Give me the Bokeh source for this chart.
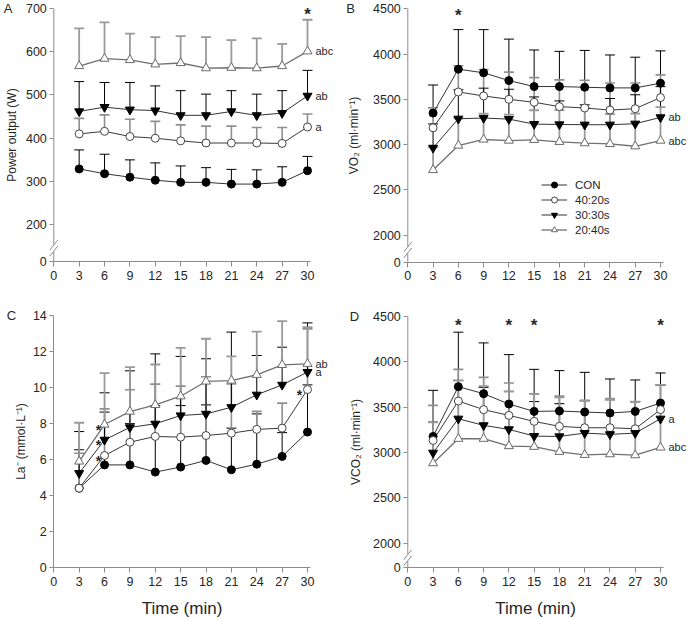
from bokeh.plotting import figure
from bokeh.models import (Range1d, FixedTicker, Whisker, TeeHead, Label,
                          Legend, LegendItem, ColumnDataSource)
from bokeh.layouts import column, row
from bokeh.embed import file_html
from bokeh.resources import INLINE

# ---------------- data ----------------
time = [3, 6, 9, 12, 15, 18, 21, 24, 27, 30]
x_ticks = [0, 3, 6, 9, 12, 15, 18, 21, 24, 27, 30]
groups = ["CON", "40:20s", "30:30s", "20:40s"]

# A: power output (W)
pw_con = [329, 318, 310, 303, 298, 298, 294, 294, 298, 325]
pw_con_sd = [44, 45, 40, 40, 38, 34, 34, 33, 36, 33]
pw_4020 = [410, 416, 404, 400, 394, 389, 389, 389, 388, 426]
pw_4020_sd = [36, 38, 40, 39, 37, 39, 39, 36, 37, 30]
pw_3030 = [462, 472, 466, 464, 453, 453, 462, 453, 458, 498]
pw_3030_sd = [69, 57, 63, 57, 57, 49, 48, 49, 52, 59]
pw_2040 = [567, 584, 581, 571, 574, 562, 563, 562, 567, 601]
pw_2040_sd = [87, 84, 61, 63, 62, 72, 64, 69, 51, 73]
pw_ticks = [0, 200, 300, 400, 500, 600, 700]
pw_labels = {"20:40s": "abc", "30:30s": "ab", "40:20s": "a"}

# B: VO2 (ml/min)
vo2_con = [3348, 3833, 3793, 3707, 3641, 3641, 3633, 3626, 3626, 3678]
vo2_con_sd = [310, 437, 477, 458, 404, 389, 407, 364, 339, 357]
vo2_4020 = [3185, 3581, 3537, 3500, 3467, 3419, 3404, 3381, 3396, 3519]
vo2_4020_sd = [220, 289, 293, 300, 273, 296, 306, 299, 284, 251]
vo2_3030 = [2963, 3285, 3293, 3281, 3226, 3222, 3219, 3219, 3230, 3300]
vo2_3030_sd = [265, 320, 330, 330, 300, 260, 220, 290, 320, 340]
vo2_2040 = [2719, 2989, 3056, 3044, 3052, 3030, 3015, 3007, 2981, 3044]
vo2_2040_sd = [250, 300, 286, 287, 327, 350, 390, 330, 360, 370]
vo2_ticks = [0, 2000, 2500, 3000, 3500, 4000, 4500]
vo2_labels = {"30:30s": "ab", "20:40s": "abc"}

# C: lactate (mmol/L)
la_con = [4.42, 5.71, 5.71, 5.31, 5.59, 5.96, 5.44, 5.75, 6.18, 7.53]
la_con_sd = [2.13, 2.93, 2.29, 3.69, 3.41, 3.08, 2.31, 2.79, 1.32, 2.62]
la_4020 = [4.42, 6.23, 6.97, 7.29, 7.25, 7.34, 7.47, 7.68, 7.75, 9.89]
la_4020_sd = [1.94, 2.59, 2.91, 2.90, 2.83, 3.26, 2.73, 1.00, 1.39, 3.37]
la_3030 = [5.25, 7.10, 7.79, 7.99, 8.45, 8.54, 8.91, 9.60, 10.15, 10.86]
la_3030_sd = [2.31, 2.61, 3.14, 3.88, 3.28, 3.06, 4.17, 2.18, 2.09, 2.73]
la_2040 = [5.90, 7.95, 8.67, 9.04, 9.52, 10.34, 10.39, 10.71, 11.26, 11.32]
la_2040_sd = [2.15, 2.85, 2.46, 2.24, 2.68, 2.37, 1.34, 2.40, 2.43, 2.03]
la_ticks = [0, 2, 4, 6, 8, 10, 12, 14]
la_labels = {"20:40s": "ab", "30:30s": "a"}

# D: VCO2 (ml/min)
vco2_con = [3176, 3724, 3647, 3533, 3452, 3456, 3445, 3434, 3452, 3544]
vco2_con_sd = [508, 600, 559, 544, 463, 445, 437, 375, 346, 331]
vco2_4020 = [3132, 3566, 3471, 3408, 3342, 3287, 3272, 3272, 3261, 3471]
vco2_4020_sd = [386, 349, 356, 357, 305, 333, 298, 320, 294, 272]
vco2_3030 = [2996, 3371, 3298, 3254, 3180, 3176, 3213, 3199, 3213, 3371]
vco2_3030_sd = [338, 423, 419, 419, 380, 361, 357, 381, 347, 372]
vco2_2040 = [2882, 3151, 3151, 3070, 3063, 3007, 2974, 2981, 2970, 3055]
vco2_2040_sd = [450, 640, 580, 600, 580, 600, 600, 600, 590, 690]
vco2_ticks = [0, 2000, 2500, 3000, 3500, 4000, 4500]
vco2_labels = {"30:30s": "a", "20:40s": "abc"}

# significance stars (time points)
pw_star_times = [30]
vo2_star_times = [6]
vco2_star_times = [6, 12, 15, 30]

# ---------------- style ----------------
FONT = "Liberation Sans"
AXIS_COL = "#8c8c8c"
TEXT_COL = "#262626"
XAXIS_END = 30.3

STYLE = {
    "CON": dict(marker="circle", size=8, fill="black", line="black",
                bar="black", bw=1.0, lc="#333333", lw=1.0),
    "40:20s": dict(marker="circle", size=8, fill="white", line="#444444",
                   bar="#8f8f8f", bw=1.6, lc="#3a3a3a", lw=1.0),
    "30:30s": dict(marker="inverted_triangle", size=9, fill="black", line="black",
                   bar="black", bw=1.0, lc="#333333", lw=1.0),
    "20:40s": dict(marker="triangle", size=9, fill="white", line="#6a6a6a",
                   bar="#9a9a9a", bw=1.8, lc="#707070", lw=1.3),
}


def panel(series, sds, ticks, zero_pos, y_top, ylabel, xlabel, letter, letter_px,
          fw, fh, L, R30, T, Z, ylab_standoff, end_labels, brk=None):
    # geometry in px, local to figure: L = x of axis, R30 = x of t=30,
    # T = y of top tick, Z = y of x-axis (from figure top)
    ux = (R30 - L) / 30.0
    uy = (Z - T) / float(y_top - zero_pos)
    x0, x1 = -L / ux, (fw - L) / ux
    y1 = y_top + T / uy
    y0 = zero_pos - (fh - Z) / uy

    p = figure(width=fw, height=fh, x_range=Range1d(x0, x1), y_range=Range1d(y0, y1),
               output_backend="svg", toolbar_location=None, title=None,
               min_border=0, min_border_left=0, min_border_right=0,
               min_border_top=0, min_border_bottom=0)
    p.outline_line_color = None
    p.grid.visible = False
    p.background_fill_color = "white"
    p.border_fill_color = "white"

    tick_pos = [zero_pos] + ticks[1:]
    p.xaxis.ticker = FixedTicker(ticks=x_ticks)
    p.yaxis.ticker = FixedTicker(ticks=tick_pos)
    p.yaxis.major_label_overrides = {zero_pos: "0"}
    p.xaxis.fixed_location = zero_pos
    p.yaxis.fixed_location = 0
    p.xaxis.bounds = (0, XAXIS_END)
    p.yaxis.bounds = (zero_pos, y_top)

    for ax in (p.xaxis[0], p.yaxis[0]):
        ax.axis_line_color = AXIS_COL
        ax.major_tick_line_color = AXIS_COL
        ax.minor_tick_line_color = None
        ax.major_tick_in = 0
        ax.major_label_text_font = FONT
        ax.major_label_text_font_size = "12.5px"
        ax.major_label_text_color = TEXT_COL
        ax.axis_label_text_font = FONT
        ax.axis_label_text_font_style = "normal"
        ax.axis_label_text_color = TEXT_COL
    p.yaxis.major_tick_out = 4
    p.xaxis.major_tick_out = 5
    p.yaxis.major_label_standoff = 3
    p.xaxis.major_label_standoff = 4
    p.yaxis.axis_label = ylabel
    p.yaxis.axis_label_text_font_size = "12px"
    p.yaxis.axis_label_standoff = ylab_standoff
    if xlabel:
        p.xaxis.axis_label = xlabel
        p.xaxis.axis_label_text_font_size = "17px"
        p.xaxis.axis_label_standoff = 10

    # broken y axis: own line pieces and the "//" mark
    if brk is not None:
        p.yaxis.axis_line_color = None
        g = 3.5 / uy
        sx0, sy0, sx1, sy1 = [0, 0], [brk + g, zero_pos], [0, 0], [y_top, brk - g]
        for off in (-3, 3):
            cy = brk + off / uy
            sx0.append(-4 / ux); sy0.append(cy - 5 / uy)
            sx1.append(4 / ux); sy1.append(cy + 5 / uy)
        p.segment(sx0, sy0, sx1, sy1, line_color=AXIS_COL, line_width=1)

    line_r, sc_r = {}, {}
    for gname in groups:
        st = STYLE[gname]
        vals, sd = series[gname], sds[gname]
        src = ColumnDataSource(dict(x=time, y=vals, top=[v + s for v, s in zip(vals, sd)]))
        p.add_layout(Whisker(source=src, base="x", lower="y", upper="top",
                             dimension="height", line_color=st["bar"], line_width=st["bw"],
                             upper_head=TeeHead(size=10, line_color=st["bar"], line_width=st["bw"]),
                             lower_head=None, level="underlay"))
    for gname in groups:
        st = STYLE[gname]
        line_r[gname] = p.line(time, series[gname], line_color=st["lc"], line_width=st["lw"])
    for gname in groups:
        st = STYLE[gname]
        sc_r[gname] = p.scatter(time, series[gname], marker=st["marker"], size=st["size"],
                                fill_color=st["fill"], line_color=st["line"], line_width=1)

    for gname, txt in end_labels.items():
        p.add_layout(Label(x=time[-1], y=series[gname][-1], text=txt, x_offset=8,
                           text_baseline="middle", text_align="left",
                           text_font=FONT, text_font_size="11px", text_color=TEXT_COL))

    p.add_layout(Label(x=0, y=y_top, x_offset=letter_px - L, text=letter,
                       text_align="center", text_baseline="middle",
                       text_font=FONT, text_font_size="13px", text_color=TEXT_COL))
    return p, line_r, sc_r


def top_stars(p, times, y_top, dy_px):
    for t in times:
        p.add_layout(Label(x=t, y=y_top, y_offset=-(5 + dy_px), text="*",
                           text_align="center", text_baseline="middle",
                           text_font=FONT, text_font_style="bold", text_font_size="17px",
                           text_color=TEXT_COL))


def side_star(p, t, yv, dx):
    p.add_layout(Label(x=t, y=yv, x_offset=dx, y_offset=-5, text="*",
                       text_align="center", text_baseline="middle", text_font=FONT,
                       text_font_style="bold", text_font_size="14px", text_color=TEXT_COL))


# figure sizes (px)
A_W, B_W = 340, 349
TOP_H, BOT_H = 296, 323

pA, _, _ = panel({"CON": pw_con, "40:20s": pw_4020, "30:30s": pw_3030, "20:40s": pw_2040},
                 {"CON": pw_con_sd, "40:20s": pw_4020_sd, "30:30s": pw_3030_sd, "20:40s": pw_2040_sd},
                 pw_ticks, 115, 700, "Power output (W)", None, "A", 7.5,
                 A_W, TOP_H, 53.3, 307.0, 8.0, 261.0, 4, pw_labels, brk=146)
top_stars(pA, pw_star_times, 700, 1.3)

pB, lrB, srB = panel({"CON": vo2_con, "40:20s": vo2_4020, "30:30s": vo2_3030, "20:40s": vo2_2040},
                     {"CON": vo2_con_sd, "40:20s": vo2_4020_sd, "30:30s": vo2_3030_sd, "20:40s": vo2_2040_sd},
                     vo2_ticks, 1700, 4500, "VO\u2082 (ml\u00b7min\u207b\u00b9)", None, "B", 10.0,
                     B_W, TOP_H, 67.3, 320.0, 8.3, 261.7, 9, vo2_labels, brk=1837)
top_stars(pB, vo2_star_times, 4500, 1.7)
legend = Legend(items=[LegendItem(label=g, renderers=[lrB[g], srB[g]]) for g in groups],
                location=(201, 59), orientation="vertical")
legend.background_fill_alpha = 0
legend.border_line_color = None
legend.padding = 0
legend.margin = 0
legend.spacing = 0
legend.glyph_width = 26
legend.glyph_height = 15
legend.label_height = 15
legend.label_standoff = 8
legend.label_text_font = FONT
legend.label_text_font_size = "11.5px"
legend.label_text_color = TEXT_COL
pB.add_layout(legend)

pC, _, _ = panel({"CON": la_con, "40:20s": la_4020, "30:30s": la_3030, "20:40s": la_2040},
                 {"CON": la_con_sd, "40:20s": la_4020_sd, "30:30s": la_3030_sd, "20:40s": la_2040_sd},
                 la_ticks, 0, 14, "La\u207b (mmol\u00b7L\u207b\u00b9)", "Time (min)", "C", 11.0,
                 A_W, BOT_H, 53.3, 307.0, 19.0, 271.3, 2, la_labels, brk=None)
for yv in (la_2040[1], la_3030[1], la_4020[1]):
    side_star(pC, time[1], yv, -6)
side_star(pC, time[-1], la_4020[-1], -8)

pD, _, _ = panel({"CON": vco2_con, "40:20s": vco2_4020, "30:30s": vco2_3030, "20:40s": vco2_2040},
                 {"CON": vco2_con_sd, "40:20s": vco2_4020_sd, "30:30s": vco2_3030_sd, "20:40s": vco2_2040_sd},
                 vco2_ticks, 1730, 4500, "VCO\u2082 (ml\u00b7min\u207b\u00b9)", "Time (min)", "D", 14.0,
                 B_W, BOT_H, 67.3, 320.0, 19.7, 271.3, 7, vco2_labels, brk=1842)
top_stars(pD, vco2_star_times, 4500, 4.3)

layout = column(row(pA, pB, spacing=0), row(pC, pD, spacing=0), spacing=0)
open("out.html", "w").write(file_html(layout, INLINE))
